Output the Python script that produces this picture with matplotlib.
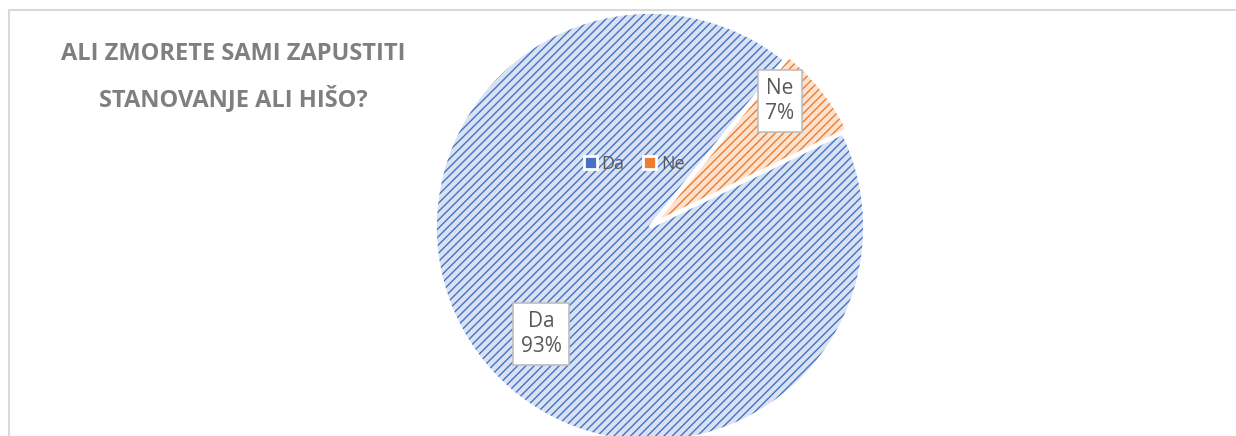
import matplotlib.pyplot as plt
from matplotlib.patches import Patch, Rectangle

categories = ['Da', 'Ne']
shares = [93, 7]
face_colors = ['#d9e2f3', '#fce2cf']
hatch_colors = ['#4472c4', '#ed7d31']
title = 'ALI ZMORETE SAMI ZAPUSTITI\nSTANOVANJE ALI HIŠO?'

plt.rcParams['font.family'] = ['Open Sans', 'DejaVu Sans']
plt.rcParams['hatch.linewidth'] = 1.0

W, H = 1236, 436
fig = plt.figure(figsize=(W / 100, H / 100), dpi=100)

# chart frame (right and bottom edges fall outside the picture)
fig.patches.append(Rectangle((9 / W, -0.1), 1.1, (H - 10) / H + 0.1, transform=fig.transFigure,
                             fill=False, edgecolor='#d9d9d9', linewidth=1.5))

# pie axes: centre (650, 228) px, radius 217 px
cx, cy, r = 650, 227, 217
ax = fig.add_axes([(cx - r) / W, (H - cy - r) / H, 2 * r / W, 2 * r / H])
explode = [0, 0.025]

wedges, _ = ax.pie(shares, startangle=26, counterclock=False, explode=explode, radius=1,
                   colors=face_colors, wedgeprops=dict(linewidth=0))
for w, hc in zip(wedges, hatch_colors):
    w.set_hatch('////')
    w.set_edgecolor(hc)
ax.pie(shares, startangle=26, counterclock=False, explode=explode, radius=1,
       colors=['none', 'none'], wedgeprops=dict(edgecolor='white', linewidth=2.5))
ax.set_xlim(-1.01, 1.01)
ax.set_ylim(-1.01, 1.01)
ax.set_aspect('equal')
ax.axis('off')

# data labels
label_pos = {'Da': (541, 334), 'Ne': (780, 101)}
for cat, val in zip(categories, shares):
    x, y = label_pos[cat]
    fig.text(x / W, 1 - y / H, f'{cat}\n{val}%', ha='center', va='center', fontsize=15,
             color='#595959', linespacing=1.3, zorder=10,
             bbox=dict(boxstyle='square,pad=0.35', facecolor='white', edgecolor='#bfbfbf', linewidth=1.2))

# legend
handles = [Patch(facecolor=c, edgecolor='white', linewidth=2) for c in hatch_colors]
leg = fig.legend(handles, categories, loc='center', bbox_to_anchor=(634 / W, 1 - 164 / H), ncol=2,
                 frameon=False, fontsize=13, labelcolor='#595959', handlelength=0.75, handleheight=0.75,
                 handletextpad=0.25, columnspacing=1.0)
leg.set_zorder(10)

fig.text(233 / W, 1 - 77 / H, title, ha='center', va='center', fontsize=17, fontweight='bold',
         color='#7f7f7f', linespacing=1.95)

fig.savefig('out.png', dpi=100)
